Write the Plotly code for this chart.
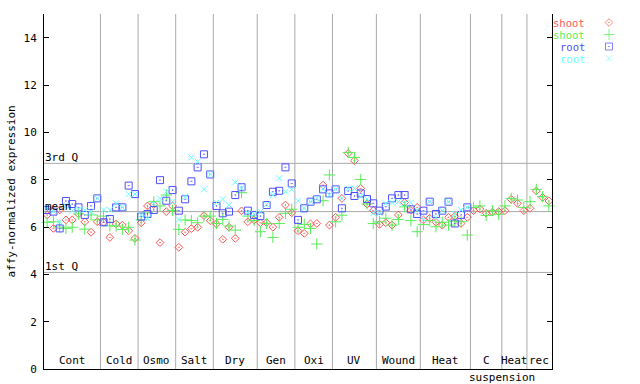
import numpy as np
import plotly.graph_objects as go

# ---------------- data ----------------
group_names = ["Cont", "Cold", "Osmo", "Salt", "Dry", "Gen", "Oxi", "UV",
               "Wound", "Heat", "C suspension", "Heat", "rec"]
group_sizes = [9, 6, 6, 6, 7, 6, 6, 7, 7, 8, 5, 4, 4]

series_names = ["shoot", "shoot", "root", "root"]

shoot_red = [6.51, 5.94, 6.72, 6.30, 6.30, 6.55, 6.22, 5.78, 6.22,
             6.20, 5.56, 6.13, 6.08, 5.84, 5.52,
             6.18, 6.89, 6.95, 5.34, 6.65, 6.89,
             5.14, 5.78, 5.93, 5.99, 6.48, 6.27,
             6.13, 5.48, 5.99, 5.52, 6.68, 6.22, 6.30,
             6.18, 6.18, 5.99, 6.41, 6.93, 6.60,
             5.84, 5.73, 6.13, 6.15, 7.77, 6.08,
             6.41, 7.21, 9.11, 8.80, 7.63, 6.97, 6.70,
             6.11, 6.18, 6.08, 6.51, 7.03, 6.70, 6.83,
             6.30, 6.37, 6.20, 6.08, 6.41, 6.45, 6.15, 6.41,
             6.69, 6.76, 6.58, 6.63, 6.65,
             6.69, 7.17, 7.00, 6.69,
             6.79, 7.52, 7.25, 7.10]

shoot_green = [6.20, 6.22, 6.00, 5.94, 5.99, 6.55, 5.91, 6.51, 6.30,
               6.46, 6.05, 6.04, 5.90, 5.99, 5.45,
               6.30, 6.60, 7.07, 6.89, 7.35, 6.70,
               5.90, 6.30, 6.27, 6.18, 6.46, 6.46,
               6.15, 6.32, 6.04, 5.87, 7.45, 6.46, 6.27,
               5.80, 6.15, 5.56, 6.15, 6.58, 6.75,
               5.99, 6.11, 5.94, 5.28, 7.11, 8.20,
               6.22, 6.50, 9.15, 8.94, 8.01, 6.97, 6.15,
               6.22, 6.37, 6.08, 6.32, 6.85, 6.27, 5.80,
               6.10, 6.27, 6.01, 6.20, 6.08, 6.25, 6.22, 5.66,
               6.83, 6.89, 6.49, 6.69, 6.54,
               6.89, 7.21, 7.14, 6.83,
               7.07, 7.59, 7.28, 6.89]

root_blue = [6.72, 6.65, 5.94, 7.10, 6.97, 6.83, 6.51, 6.89, 7.21,
             6.20, 6.34, 6.83, 6.83, 7.75, 7.39,
             6.44, 6.55, 6.72, 7.98, 7.11, 7.56,
             6.69, 7.17, 7.93, 8.52, 9.07, 8.22,
             6.89, 6.58, 6.65, 7.35, 7.68, 6.69, 6.51,
             6.46, 6.93, 7.49, 7.53, 8.52, 7.84,
             6.30, 6.79, 7.07, 7.17, 7.59, 7.42,
             7.59, 6.79, 7.52, 7.31, 7.42, 7.18, 7.00,
             6.69, 6.86, 7.21, 7.35, 7.35, 6.75, 6.55,
             6.69, 7.07, 6.55, 6.69, 7.07, 6.15, 6.51, 6.83,
             None, None, None, None, None,
             None, None, None, None,
             None, None, None, None]

root_cyan = [6.78, 6.67, 6.22, 6.90, 6.69, 6.72, 6.72, 6.65, 7.21,
             6.72, 6.72, 7.00, 6.83, 7.39, 7.39,
             6.50, 6.37, 7.00, 7.21, 7.49, 7.07,
             6.32, 7.28, 8.94, 8.76, 7.59, 8.22,
             7.03, 7.17, 6.93, 7.89, 7.65, 6.60, 6.55,
             6.65, 6.95, 7.35, 8.06, 7.49, 7.59,
             7.11, 6.79, 7.07, 7.21, 7.59, 7.35,
             7.59, 7.21, 7.63, 7.63, 7.30, 7.18, 6.58,
             6.58, 7.00, 7.03, 7.07, 7.00, 7.03, 6.72,
             6.32, 7.07, 6.40, 6.69, 7.07, 6.55, 6.72, 6.83,
             None, None, None, None, None,
             None, None, None, None,
             None, None, None, None]

ref_labels = ["3rd Q", "mean", "1st Q"]
ref_values = [8.69, 6.65, 4.08]

y_ticks = [0, 2, 4, 6, 8, 10, 12, 14]

# ---------------- styles ----------------
FONT = "DejaVu Sans Mono"
colors = ["#ff5555", "#55ee55", "#4f4fff", "#66ffff"]
symbols = ["diamond-open-dot", "cross-thin-open", "square-open-dot", "x-thin-open"]
sizes = [6, 8, 7, 6]
GRID = "#a9a9a9"

W, H = 640, 384
ML, MT, MB = 44, 14, 15
PLOT_RIGHT = 552
area_w = W - ML          # full width right of left margin (r margin = 0)
main_frac = (PLOT_RIGHT - ML) / area_w

n = sum(group_sizes)
x = np.arange(n)

fig = go.Figure()
all_series = [shoot_red, shoot_green, root_blue, root_cyan]
for vals, col, sym, sz, name in zip(all_series, colors, symbols, sizes, series_names):
    fig.add_trace(go.Scatter(
        x=x, y=vals, mode="markers", name=name, showlegend=False,
        marker=dict(symbol=sym, size=sz, color=col, line=dict(color=col, width=1)),
        cliponaxis=False))

# legend (text then marker, like the reference) on a pixel-based helper subplot
legend_rows = [22.5, 34.5, 46.5, 58.5]
fig.add_trace(go.Scatter(
    x=[609] * 4, y=legend_rows, xaxis="x2", yaxis="y2", mode="markers",
    showlegend=False, cliponaxis=False, hoverinfo="skip",
    marker=dict(symbol=symbols, size=sizes, color=colors,
                line=dict(color=colors, width=1))))
for name, col, yy in zip(series_names, colors, legend_rows):
    fig.add_annotation(x=586, y=yy, xref="x2", yref="y2", text=name,
                       showarrow=False, xanchor="right", yanchor="middle",
                       borderpad=0,
                       font=dict(family=FONT, size=10.5, color=col))

shapes = []
# group separators
bounds = np.cumsum(group_sizes)[:-1] - 0.5
for b in bounds:
    shapes.append(dict(type="line", xref="x", yref="y domain", x0=b, x1=b, y0=0, y1=1,
                       line=dict(color=GRID, width=1), layer="below"))
# reference lines
for lab, v in zip(ref_labels, ref_values):
    shapes.append(dict(type="line", xref="x domain", yref="y", x0=0, x1=1, y0=v, y1=v,
                       line=dict(color=GRID, width=1), layer="below"))
    fig.add_annotation(x=0, y=v, xref="x domain", yref="y", text=lab, showarrow=False,
                       xanchor="left", yanchor="bottom", yshift=-3, xshift=-1,
                       font=dict(family=FONT, size=11, color="black"))

# group labels
start = 0
for name, size in zip(group_names, group_sizes):
    center = start + (size - 1) / 2
    parts = name.split(" ")
    fig.add_annotation(x=center, y=0, xref="x", yref="y", text=parts[0], showarrow=False,
                       xanchor="center", yanchor="bottom", yshift=0,
                       font=dict(family=FONT, size=11, color="black"))
    if len(parts) > 1:
        fig.add_annotation(x=start - 0.5, y=0, xref="x", yref="y domain", text=parts[1],
                           showarrow=False, xanchor="left", yanchor="top", xshift=-3,
                           font=dict(family=FONT, size=11, color="black"))
    start += size

# y axis title
fig.add_annotation(x=(11 - ML) / area_w, y=0.5, xref="paper", yref="paper",
                   text="affy-normalized expression", textangle=-90, showarrow=False,
                   xanchor="center", yanchor="middle",
                   font=dict(family=FONT, size=11, color="black"))

fig.update_layout(
    width=W, height=H,
    margin=dict(l=ML, r=0, t=MT, b=MB, pad=0),
    paper_bgcolor="white", plot_bgcolor="rgba(0,0,0,0)",
    font=dict(family=FONT, size=11, color="black"),
    shapes=shapes,
    showlegend=False,
    xaxis=dict(domain=[0, main_frac], range=[-0.5, n - 0.5], showgrid=False, zeroline=False,
               showticklabels=False, ticks="", showline=True, automargin=False,
               linecolor="black", linewidth=1, fixedrange=True),
    yaxis=dict(domain=[0, 1], range=[0, 15], tickvals=y_ticks,
               ticktext=[str(t) for t in y_ticks], automargin=False,
               showgrid=False, zeroline=False, ticks="inside", ticklen=5,
               tickcolor="black", showline=True, linecolor="black", linewidth=1,
               mirror="ticks", ticklabelstandoff=4, fixedrange=True,
               tickfont=dict(family=FONT, size=11, color="black")),
    xaxis2=dict(domain=[0, 1], anchor="y2", range=[ML, W], visible=False,
                automargin=False, fixedrange=True),
    yaxis2=dict(domain=[0, 1], anchor="x2", range=[H - MB, MT], visible=False,
                automargin=False, fixedrange=True),
)

fig.write_html("out.html", config={"displayModeBar": False},
               post_script="document.body.style.margin='0';document.body.style.padding='0';")
